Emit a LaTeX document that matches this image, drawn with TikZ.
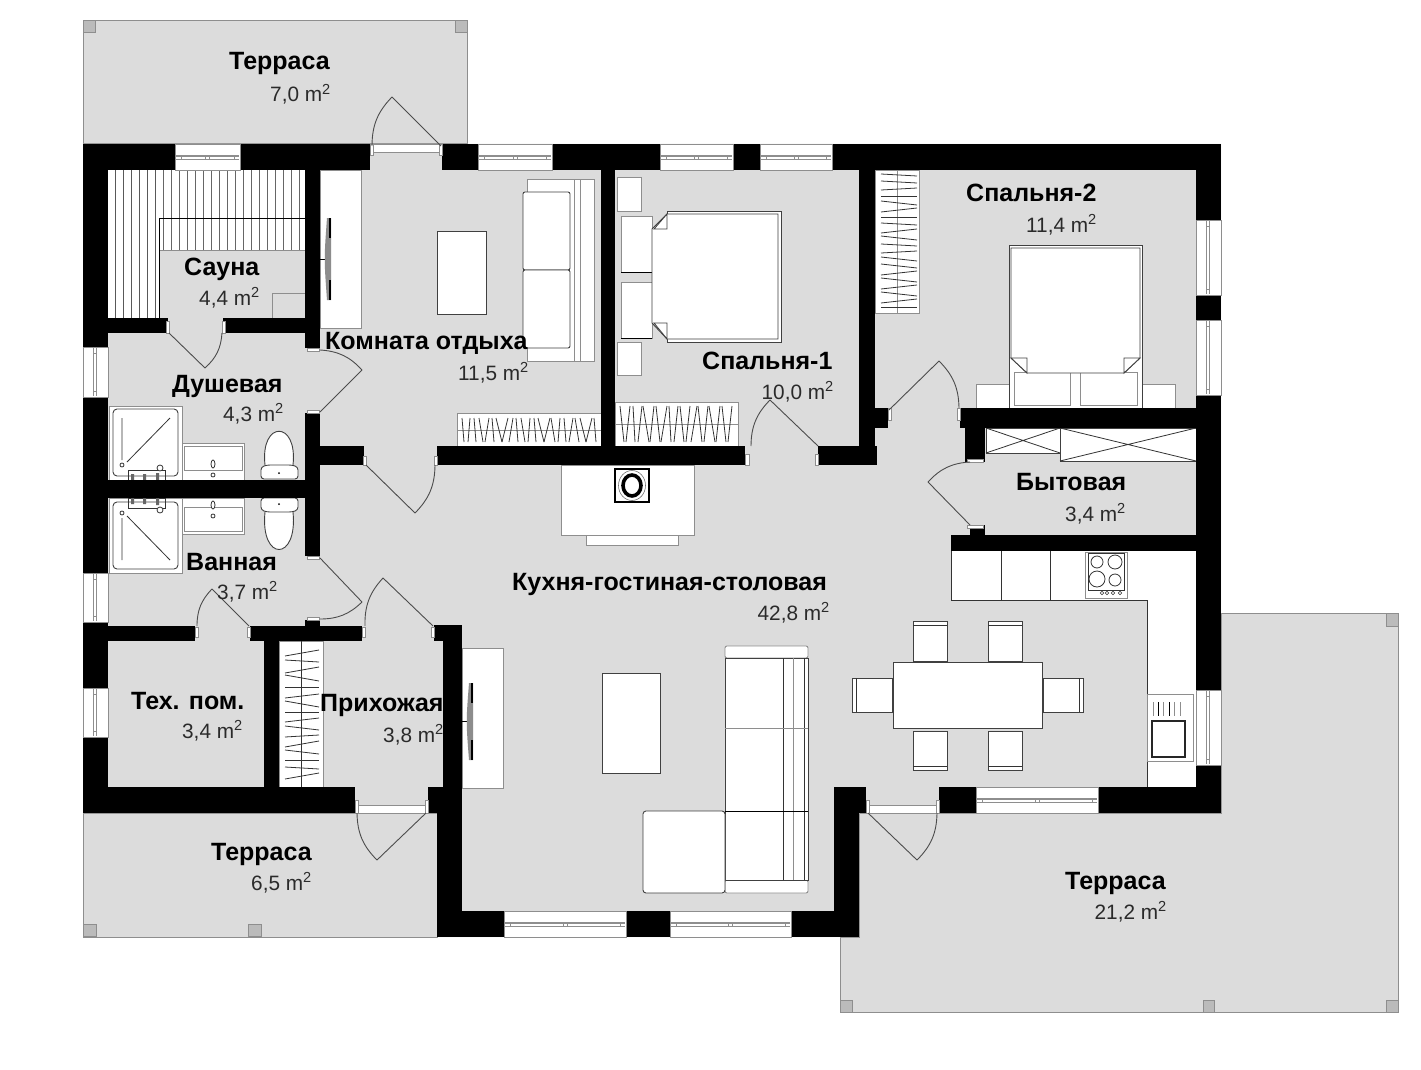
\documentclass[tikz,border=0pt]{standalone}
\usepackage{fontspec}
\setmainfont{Liberation Sans}
\definecolor{floorc}{HTML}{DCDCDC}
\definecolor{edgec}{HTML}{8E8E8E}
\definecolor{areac}{HTML}{2A2A2A}
\tikzset{
  wallc/.style={fill=black,draw=none},
  terr/.style={fill=floorc,draw=edgec,line width=1pt},
  pillar/.style={fill=floorc!85!black,draw=edgec,line width=1pt},
  furn/.style={fill=white,draw=black!75,line width=.9pt},
  furng/.style={fill=white,draw=edgec,line width=.9pt},
  thin1/.style={draw=black!80,line width=.8pt},
  thing/.style={draw=edgec,line width=.8pt},
  doorl/.style={draw=black!70,line width=.9pt},
  winw/.style={fill=white,draw=edgec,line width=.7pt},
  roomt/.style={font=\fontsize{25}{25}\selectfont\bfseries,text=black,inner sep=0pt,anchor=base west},
  areat/.style={font=\fontsize{20.8}{21}\selectfont,text=areac,inner sep=0pt,anchor=base east},
}
\newcommand{\wl}[4]{\fill[wallc] (#1,#2) rectangle (#3,#4);}
\newcommand{\hwin}[4]{%
  \draw[winw] (#1,#3) rectangle (#2,#4);
  \draw[thing,line width=1.2pt] (#1+1,{(#3+#4)/2-1}) -- (#2-1,{(#3+#4)/2-1});
  \draw[thing] (#1+1,{(#3+#4)/2+2}) -- (#2-1,{(#3+#4)/2+2});
  \draw[thing] (#1+6,{(#3+#4)/2-1}) -- (#1+6,{(#3+#4)/2+2});
  \draw[thing] (#2-6,{(#3+#4)/2-1}) -- (#2-6,{(#3+#4)/2+2});
  \draw[thing] ({(#1+#2)/2-2},{(#3+#4)/2-1}) -- ({(#1+#2)/2-2},{(#3+#4)/2+2});
  \draw[thing] ({(#1+#2)/2+2},{(#3+#4)/2-1}) -- ({(#1+#2)/2+2},{(#3+#4)/2+2});
}
\newcommand{\vwin}[4]{%
  \draw[winw] (#1,#3) rectangle (#2,#4);
  \draw[thing,line width=1.2pt] ({(#1+#2)/2-2},#3+1) -- ({(#1+#2)/2-2},#4-1);
  \draw[thing] ({(#1+#2)/2+1},#3+1) -- ({(#1+#2)/2+1},#4-1);
  \draw[thing] ({(#1+#2)/2-2},#3+6) -- ({(#1+#2)/2+1},#3+6);
  \draw[thing] ({(#1+#2)/2-2},#4-6) -- ({(#1+#2)/2+1},#4-6);
}
% door: hinge, tip, arc end, bend side
\newcommand{\doorm}[4]{\draw[doorl,line join=bevel] (#1) -- (#2) to[bend #4=22] (#3);}
\newcommand{\stub}[4]{\draw[winw] (#1,#2) rectangle (#3,#4);}
\newcommand{\tvset}[3]{% x of wall, y top, y bottom
  \draw[black,line width=1pt] (#1,{(#2+#3)/2}) -- (#1+6,{(#2+#3)/2});
  \fill[black!45] (#1+7,#2) .. controls (#1+4,{(#2+#3)/2}) and (#1+4,{(#2+#3)/2}) .. (#1+7,#3) -- (#1+11,#3) -- (#1+11,#2) -- cycle;
  \fill[black] (#1+9,#2) rectangle (#1+11,#2+20);
  \fill[black] (#1+9,#3-20) rectangle (#1+11,#3);
}
\begin{document}
\begin{tikzpicture}[x=1pt,y=-1pt]
\useasboundingbox (0,0) rectangle (1421,1070);
\fill[white] (0,0) rectangle (1421,1070);
% ---------- terraces
\draw[terr] (83,21) rectangle (467,144);
\draw[pillar] (83,21) rectangle (95,33);
\draw[pillar] (455,21) rectangle (467,33);
\draw[terr] (83,813) rectangle (437,937);
\draw[pillar] (83,924) rectangle (96,936);
\draw[pillar] (248,924) rectangle (261,936);
\draw[terr] (1221,613) -- (1398,613) -- (1398,1012) -- (840,1012) -- (840,937) -- (859,937) -- (859,813) -- (1221,813) -- cycle;
\draw[pillar] (1386,613) rectangle (1398,626);
\draw[pillar] (1386,1000) rectangle (1398,1012);
\draw[pillar] (1203,1000) rectangle (1214,1012);
\draw[pillar] (840,1000) rectangle (852,1012);
% ---------- floor
\fill[floorc] (83,144) -- (1221,144) -- (1221,813) -- (859,813) -- (859,937) -- (437,937) -- (437,813) -- (83,813) -- cycle;
% ---------- sauna benches
\fill[white] (108,170) rectangle (305,250);
\fill[white] (108,250) rectangle (159,318);
\foreach \x in {115,123,131,139,147,155} \draw[thin1,draw=black!65] (\x,170) -- (\x,318);
\foreach \x in {163,171,179,187,195,203,211,219,227,235,243,251,259,267,275,283,291,299}
  \draw[thin1,draw=black!60] (\x,170) -- (\x,250);
\draw[thing] (159,250) -- (305,250);
\draw[black,line width=1pt] (159,318) -- (159,218) -- (305,218);
\draw[thing] (272,318) -- (272,293) -- (305,293);
% ---------- rest room furniture
\draw[furng] (320,170) rectangle (361,328);
\tvset{320}{218}{300}
\draw[furn] (437,231) rectangle (486,314);
\draw[furng] (527,179) rectangle (594,361);
\draw[thing] (574,179) -- (574,361);
\draw[thing] (580,179) -- (580,361);
\draw[furn,rounded corners=2pt] (523,192) rectangle (570,270);
\draw[furn,rounded corners=2pt] (523,270) rectangle (570,348);
\draw[furng] (457,413) rectangle (601,446);
\draw[thing] (457,430) -- (601,430);
\foreach \x/\d [count=\i] in {463/1,469/-1,475/1,481/2,487/-2,493/1,499/3,505/-3,511/-2,517/1,523/2,529/-1,535/1,541/3,547/-3,553/2,559/-1,565/1,571/-2,577/2,583/3,589/-3,595/1}
  \draw[black!80,line width=.8pt] (\x-\d,418) -- (\x+\d,442);
% ---------- bedroom 1
\draw[furng] (617,177) rectangle (641,211);
\draw[furng] (617,342) rectangle (641,375);
\draw[furng] (621,216) rectangle (652,272);
\draw[furng] (621,282) rectangle (652,338);
\draw[black,line width=.9pt] (621,272) -- (652,272) (621,338) -- (652,338);
\draw[furn] (667,211) rectangle (781,342);
\draw[furn] (667,214) -- (778,214) -- (778,339) -- (667,339) -- (652,323) -- (652,229) -- cycle;
\draw[furn] (654,229) -- (667,214) -- (667,229) -- cycle;
\draw[furn] (654,323) -- (667,339) -- (667,323) -- cycle;
\draw[furng] (615,402) rectangle (738,446);
\draw[thing] (615,424) -- (738,424);
\foreach \x/\d in {622/2,628/-2,634/1,640/-2,646/3,652/-2,658/2,664/-3,670/1,676/-2,682/2,688/-2,694/-3,700/2,706/-2,712/3,718/-2,724/2,730/-2}
  \draw[black!80,line width=.8pt] (\x-\d,406) -- (\x+\d,442);
% ---------- bedroom 2
\draw[furng] (875,170) rectangle (919,313);
\draw[thing] (897,170) -- (897,313);
\foreach \y/\d in {175/1,182/1,189/-1,196/0,203/2,210/-2,217/0,224/1,231/-2,238/2,245/1,252/-1,259/2,266/2,273/-2,280/2,287/-2,294/2,301/-2,307/0}
  \draw[black!80,line width=.8pt] (881,\y-\d) -- (917,\y+\d);
\draw[furng] (976,384) rectangle (1009,408);
\draw[furng] (1142,384) rectangle (1175,408);
\draw[furn] (1009,245) rectangle (1142,408);
\draw[furng] (1014,372) rectangle (1070,405);
\draw[furng] (1080,372) rectangle (1137,405);
\draw[furn] (1011,248) -- (1140,248) -- (1140,358) -- (1124,373) -- (1027,373) -- (1011,358) -- cycle;
\draw[furn] (1011,358) -- (1027,358) -- (1027,373) -- cycle;
\draw[furn] (1140,358) -- (1124,358) -- (1124,373) -- cycle;
% ---------- utility
\draw[furn] (986,428) rectangle (1060,453);
\draw[thin1] (986,428) -- (1060,453) (986,453) -- (1060,428);
\draw[furn] (1060,428) rectangle (1196,461);
\draw[thin1] (1060,428) -- (1196,461) (1060,461) -- (1196,428);
% ---------- kitchen
\fill[white] (951,551) rectangle (1196,600);
\fill[white] (1147,600) rectangle (1196,787);
\draw[black!80,line width=.9pt] (951,551) -- (951,600) -- (1147,600) -- (1147,787);
\draw[thin1] (1001,551) -- (1001,600) (1050,551) -- (1050,600);
\draw[furng] (1085,552) rectangle (1127,598);
\draw[thin1] (1088,553) rectangle (1124,590);
\foreach \p/\r in {{1097,562}/6,{1115,562}/7,{1097,579}/8,{1115,580}/6} \draw[thin1] (\p) circle (\r);
\foreach \x in {1102,1107,1113,1120} \draw[thin1,line width=.6pt] (\x,593) circle (1.7);
\draw[furng] (1147,694) rectangle (1193,761);
\foreach \x/\c in {1153/edgec,1158/black,1163/edgec,1169/black,1174/edgec,1180/edgec} \draw[\c,line width=.9pt] (\x,702) -- (\x,716);
\draw[black!85,line width=1.2pt,fill=white] (1152,721) rectangle (1185,757);
% ---------- dining
\draw[furn] (913,621) rectangle (947,661);
\draw[furn] (988,621) rectangle (1022,661);
\draw[furn] (913,731) rectangle (947,770);
\draw[furn] (988,731) rectangle (1022,770);
\draw[furn] (852,678) rectangle (892,712);
\draw[furn] (1043,678) rectangle (1083,712);
\draw[thin1] (913,625) -- (947,625) (988,625) -- (1022,625) (913,766) -- (947,766) (988,766) -- (1022,766) (856,678) -- (856,712) (1079,678) -- (1079,712);
\draw[furn] (893,662) rectangle (1042,728);
% ---------- fireplace
\draw[furng] (586,535) rectangle (678,545);
\draw[furng] (561,465) rectangle (694,535);
\draw[black,line width=1.6pt,fill=white] (615,469) rectangle (649,502);
\draw[black!55,line width=.6pt] (632,485.5) ellipse (13.5 and 15);
\draw[black,line width=3.6pt] (632,485.5) ellipse (9 and 10.5);
% ---------- main lounge
\draw[furng] (462,648) rectangle (503,788);
\tvset{462}{683}{760}
\draw[furn] (602,673) rectangle (660,773);
\draw[furng,rounded corners=2pt] (725,646) rectangle (808,658);
\draw[furng,rounded corners=2pt] (725,880) rectangle (808,893);
\draw[furn] (725,658) rectangle (808,880);
\draw[black!80,line width=.9pt] (783,658) -- (783,880);
\draw[thing] (793,658) -- (793,880);
\draw[black!80,line width=.9pt] (804,658) -- (804,880);
\draw[thing] (725,728) -- (808,728);
\draw[black,line width=1pt] (725,811) -- (808,811);
\draw[furn,rounded corners=3pt] (643,811) rectangle (725,893);
% ---------- bathrooms
\draw[furng] (109,406) rectangle (182,480);
\draw[furn,rounded corners=4pt] (113,409) rectangle (178,476);
\draw[thin1] (122,418) -- (122,460) (127,462) -- (170,418);
\draw[thin1] (122,465) circle (2);
\draw[thin1] (128,470) rectangle (165,480);
\fill[black!60] (131,474) rectangle (134,480) (143,474) rectangle (146,480) (156,473) rectangle (159,480);
\draw[thin1,fill=white] (160,468) circle (3);
\draw[furng] (182,443) rectangle (244,480);
\draw[furng] (184,446) rectangle (242,470);
\draw[thin1,fill=white] (213,464) ellipse (2 and 4);
\draw[thin1] (213,475) circle (2);
\draw[furn] (265,465) .. controls (260,420) and (298,420) .. (293,465);
\draw[furn,rounded corners=3pt] (261,479) -- (261,467) -- (267,465) -- (292,465) -- (298,467) -- (298,479) -- cycle;
\fill[black] (279,473) circle (1);
%
\draw[furng] (109,498) rectangle (182,573);
\draw[furn,rounded corners=4pt] (113,502) rectangle (178,569);
\draw[thin1] (122,518) -- (122,560) (127,516) -- (170,560);
\draw[thin1] (122,513) circle (2);
\draw[thin1] (128,498) rectangle (165,508);
\fill[black!60] (131,498) rectangle (134,504) (143,498) rectangle (146,504) (156,498) rectangle (159,505);
\draw[thin1,fill=white] (160,510) circle (3);
\draw[furng] (182,498) rectangle (244,534);
\draw[furng] (184,507) rectangle (242,531);
\draw[thin1,fill=white] (213,505) ellipse (2 and 4);
\draw[thin1] (213,516) circle (2);
\draw[furn] (265,512) .. controls (260,562) and (298,562) .. (293,512);
\draw[furn,rounded corners=3pt] (261,498) -- (261,510) -- (267,512) -- (292,512) -- (298,510) -- (298,498) -- cycle;
\fill[black] (279,504) circle (1);
% ---------- hall wardrobe
\draw[furng] (279,641) rectangle (323,787);
\draw[thin1] (301,641) -- (301,787);
\foreach \y/\d in {653/3,661/-1,670/3,678/-3,687/0,696/2,704/-3,712/0,720/2,728/-2,736/1,744/3,752/-2,760/0,768/-1,776/3}
  \draw[black!80,line width=.8pt] (285,\y+\d) -- (319,\y-\d);
% ---------- walls
\wl{83}{144}{175}{170} \wl{240}{144}{370}{170} \wl{442}{144}{478}{170}
\wl{552}{144}{660}{170} \wl{733}{144}{760}{170} \wl{832}{144}{1221}{170}
\wl{83}{144}{108}{347} \wl{83}{397}{108}{573} \wl{83}{622}{108}{688} \wl{83}{737}{108}{813}
\wl{83}{787}{355}{813} \wl{428}{787}{462}{813}
\wl{108}{318}{168}{333} \wl{223}{318}{305}{333}
\wl{305}{144}{320}{348} \wl{305}{413}{320}{556} \wl{305}{620}{320}{626}
\wl{108}{480}{320}{498}
\wl{320}{446}{364}{465} \wl{437}{446}{745}{465} \wl{818}{446}{877}{465}
\wl{601}{144}{615}{465}
\wl{859}{170}{875}{465} \wl{875}{408}{888}{428}
\wl{960}{408}{1196}{428} \wl{965}{428}{985}{462} \wl{970}{525}{985}{535} \wl{951}{535}{1196}{551}
\wl{1196}{144}{1221}{220} \wl{1196}{295}{1221}{320} \wl{1196}{395}{1221}{690} \wl{1196}{765}{1221}{813}
\wl{1098}{787}{1221}{813} \wl{939}{787}{976}{813} \wl{834}{787}{866}{813}
\wl{834}{787}{859}{937} \wl{791}{911}{859}{937} \wl{626}{911}{670}{937}
\wl{437}{911}{504}{937} \wl{437}{813}{462}{937} \wl{443}{625}{462}{813} \wl{434}{625}{462}{641}
\wl{83}{626}{195}{641} \wl{250}{626}{362}{641} \wl{264}{641}{279}{787}
% ---------- windows
\hwin{175}{240}{144}{170} \hwin{478}{552}{144}{170} \hwin{660}{733}{144}{170} \hwin{760}{832}{144}{170}
\hwin{976}{1098}{787}{813} \hwin{504}{626}{911}{937} \hwin{670}{791}{911}{937}
\vwin{83}{108}{347}{397} \vwin{83}{108}{573}{622} \vwin{83}{108}{688}{737}
\vwin{1196}{1221}{220}{295} \vwin{1196}{1221}{320}{395} \vwin{1196}{1221}{690}{765}
% ---------- door sills and stubs
\draw[winw] (370,144) rectangle (442,152);
\draw[winw] (357,805) rectangle (426,813);
\draw[winw] (868,805) rectangle (937,813);
\stub{370}{144}{373}{155} \stub{439}{144}{442}{155}
\stub{355}{800}{358}{813} \stub{425}{800}{428}{813}
\stub{866}{800}{869}{813} \stub{936}{800}{939}{813}
\stub{166}{321}{169}{333} \stub{222}{321}{225}{333}
\stub{307}{348}{319}{351} \stub{307}{410}{319}{413}
\stub{363}{456}{366}{465} \stub{434}{456}{437}{465}
\stub{745}{454}{749}{465} \stub{815}{454}{818}{465}
\stub{888}{408}{891}{420} \stub{957}{408}{960}{420}
\stub{967}{459}{983}{462} \stub{967}{525}{983}{528}
\stub{307}{556}{319}{559} \stub{307}{617}{319}{620}
\stub{195}{627}{198}{637} \stub{247}{627}{250}{637}
\stub{362}{627}{365}{637} \stub{431}{627}{434}{637}
% ---------- door leaves
\doorm{441,146}{392,97}{372,146}{right}
\doorm{169,333}{205,368}{222,333}{right}
\doorm{320,412}{362,370}{320,350}{right}
\doorm{366,465}{415,513}{435,465}{right}
\doorm{818,446}{770,400}{751,446}{right}
\doorm{889,410}{939,361}{959,408}{left}
\doorm{970,525}{928,482}{970,462}{left}
\doorm{320,558}{362,602}{320,619}{left}
\doorm{249,626}{212,589}{197,626}{right}
\doorm{433,626}{383,578}{365,626}{right}
\doorm{426,813}{377,860}{357,813}{left}
\doorm{868,813}{917,860}{937,813}{right}
% ---------- labels
\node[roomt] (t1) at (229,70) {Терраса};
\node[areat] (a1) at (331,102) {7,0 m\textsuperscript{2}};
\node[roomt] (t2) at (184,275) {Сауна};
\node[areat] (a2) at (260,305) {4,4 m\textsuperscript{2}};
\node[roomt] (t3) at (325,349) {Комната отдыха};
\node[areat] (a3) at (529,380) {11,5 m\textsuperscript{2}};
\node[roomt] (t4) at (172,392) {Душевая};
\node[areat] (a4) at (284,421) {4,3 m\textsuperscript{2}};
\node[roomt] (t5) at (186,570) {Ванная};
\node[areat] (a5) at (278,599) {3,7 m\textsuperscript{2}};
\node[roomt] (t6) at (131,709) {Тех. пом.};
\node[areat] (a6) at (243,738) {3,4 m\textsuperscript{2}};
\node[roomt] (t7) at (320,711) {Прихожая};
\node[areat] (a7) at (444,742) {3,8 m\textsuperscript{2}};
\node[roomt] (t8) at (211,860) {Терраса};
\node[areat] (a8) at (312,890) {6,5 m\textsuperscript{2}};
\node[roomt] (t9) at (512,590) {Кухня-гостиная-столовая};
\node[areat] (a9) at (830,620) {42,8 m\textsuperscript{2}};
\node[roomt] (t10) at (702,369) {Спальня-1};
\node[areat] (a10) at (834,399) {10,0 m\textsuperscript{2}};
\node[roomt] (t11) at (966,201) {Спальня-2};
\node[areat] (a11) at (1097,232) {11,4 m\textsuperscript{2}};
\node[roomt] (t12) at (1016,490) {Бытовая};
\node[areat] (a12) at (1126,521) {3,4 m\textsuperscript{2}};
\node[roomt] (t13) at (1065,889) {Терраса};
\node[areat] (a13) at (1167,919) {21,2 m\textsuperscript{2}};
\end{tikzpicture}
\end{document}
